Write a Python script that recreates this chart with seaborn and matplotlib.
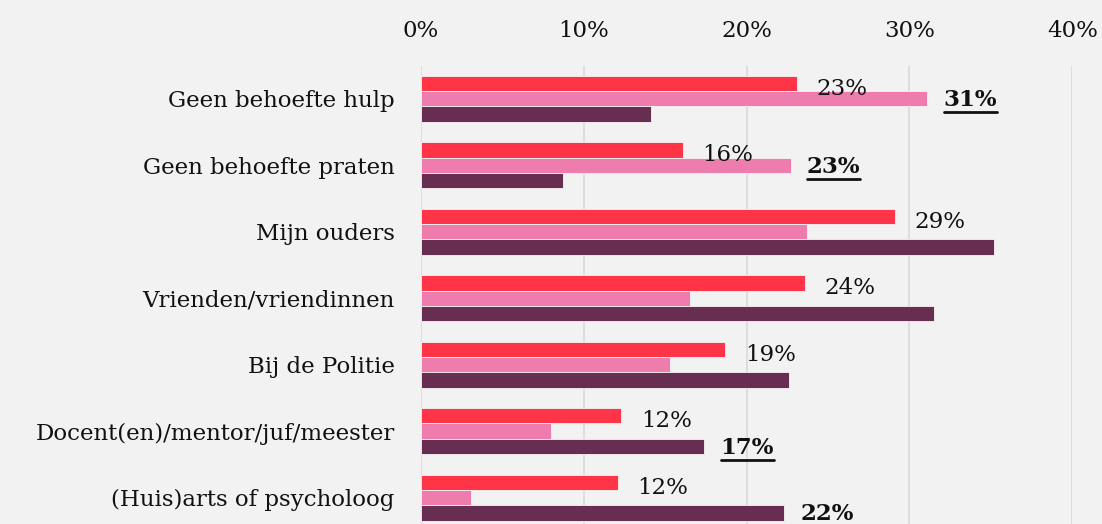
import matplotlib
matplotlib.use("Agg")
import matplotlib.pyplot as plt
from matplotlib.lines import Line2D
import seaborn as sns
import pandas as pd

categories = ["Geen behoefte hulp", "Geen behoefte praten", "Mijn ouders",
              "Vrienden/vriendinnen", "Bij de Politie",
              "Docent(en)/mentor/juf/meester", "(Huis)arts of psycholoog"]
series_names = ["Serie 1", "Serie 2", "Serie 3"]
serie1 = [23.1, 16.1, 29.1, 23.6, 18.7, 12.3, 12.1]
serie2 = [31.1, 22.7, 23.7, 16.5, 15.3, 8.0, 3.1]
serie3 = [14.1, 8.7, 35.2, 31.5, 22.6, 17.4, 22.3]
# which series gets a bold, underlined label per category (None = none)
highlight = [1, 1, None, None, None, 2, 2]
xticks = [0, 10, 20, 30, 40]
xticklabels = ["0%", "10%", "20%", "30%", "40%"]

colors = ["#FF3547", "#EE7DAE", "#682E51"]
bg = "#F2F2F2"

rows = []
for i, c in enumerate(categories):
    for s, vals in zip(series_names, [serie1, serie2, serie3]):
        rows.append({"cat": c, "serie": s, "val": vals[i]})
df = pd.DataFrame(rows)

sns.set_theme(style="white")
plt.rcParams["font.family"] = ["DejaVu Serif"]

fig = plt.figure(figsize=(11.02, 5.24), dpi=100, facecolor=bg)
ax = fig.add_axes([0.382, -0.013, 0.591, 0.888])
ax.set_facecolor(bg)

sns.barplot(data=df, y="cat", x="val", hue="serie", orient="h",
            palette=colors, saturation=1, width=0.69, edgecolor="#F5F5F5",
            linewidth=0.6, ax=ax, legend=False, order=categories,
            hue_order=series_names)

fs = 16.5
ax.set_xlim(0, 40)
ax.set_ylim(6.5, -0.5)
ax.set_xticks(xticks)
ax.set_xticklabels(xticklabels)
ax.xaxis.tick_top()
ax.tick_params(axis="x", length=0, pad=17, labelsize=fs, labelcolor="#111111")
ax.tick_params(axis="y", length=0, pad=19, labelsize=fs, labelcolor="#111111")
ax.set_xlabel("")
ax.set_ylabel("")
ax.grid(axis="x", color="#D9D9D9", linewidth=1.2)
ax.set_axisbelow(True)
for sp in ax.spines.values():
    sp.set_visible(False)

bold_texts = []
for s_idx, cont in enumerate(ax.containers):
    for i, bar in enumerate(cont.patches):
        w = bar.get_width()
        y = bar.get_y()
        h = bar.get_height()
        if s_idx == 0:
            ax.text(w + 1.2, y + h * 0.85, f"{round(w):d}%", va="center",
                    ha="left", fontsize=fs, color="#111111")
        if highlight[i] == s_idx:
            t = ax.text(w + 1.0, y + h * 0.6, f"{round(w):d}%", va="center",
                        ha="left", fontsize=fs, fontweight="bold",
                        color="#111111")
            bold_texts.append(t)

fig.canvas.draw()
inv = fig.transFigure.inverted()
for t in bold_texts:
    bb = t.get_window_extent()
    (x0, y0) = inv.transform((bb.x0, bb.y0 - 1))
    (x1, _) = inv.transform((bb.x1, bb.y0 - 1))
    fig.add_artist(Line2D([x0, x1], [y0, y0], transform=fig.transFigure,
                          color="#111111", linewidth=2))

fig.savefig("out.png", dpi=100, facecolor=bg)
